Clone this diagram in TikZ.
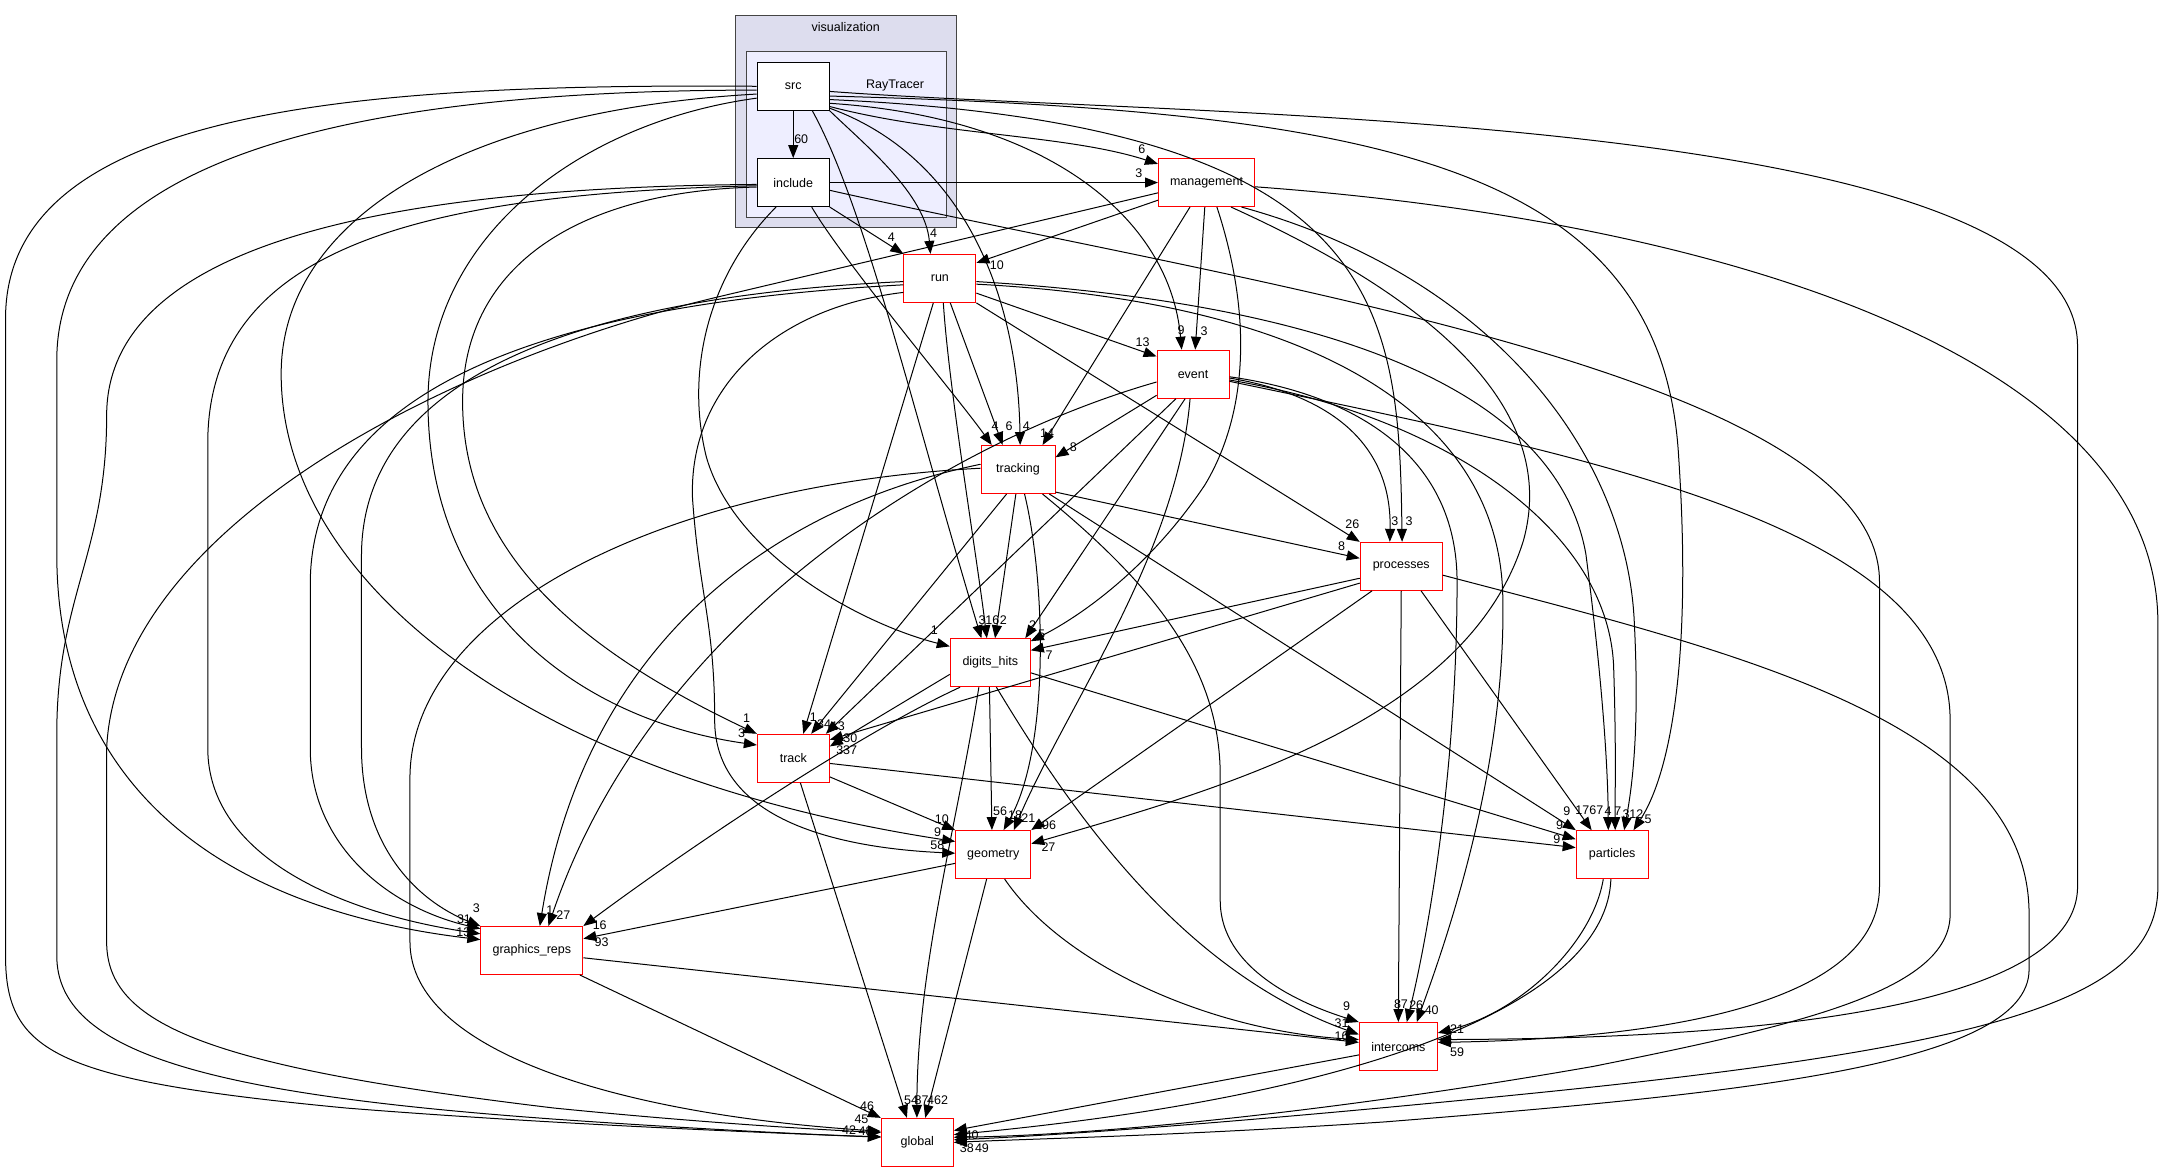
\documentclass[tikz,border=0pt]{standalone}
\usepackage{fontspec}
\setmainfont{Liberation Sans}
\usetikzlibrary{arrows.meta}
\definecolor{visfill}{RGB}{221,221,238}
\definecolor{rtfill}{RGB}{238,238,255}
\definecolor{clborder}{RGB}{68,68,68}
\tikzset{
  dirbox/.style={draw=red, fill=white, line width=1pt, minimum height=48pt, inner sep=0pt, font=\fontsize{12.5}{14}\selectfont},
  locbox/.style={dirbox, draw=black},
  e/.style={-{Triangle[length=13pt,width=10pt]}, line width=1pt},
  lb/.style={font=\fontsize{12.5}{14}\selectfont, inner sep=0pt},
  clus/.style={draw=clborder, line width=1pt, inner sep=0pt}
}
\begin{document}
\begin{tikzpicture}[x=1.385pt,y=-1.385pt]
\useasboundingbox (0,0) rectangle (1568.2,846.2);
\fill[white] (0,0) rectangle (1568.2,846.2);
% clusters
\node[clus, fill=visfill, minimum width=221pt, minimum height=212.3pt] (vis) at (611,87.95) {};
\node[lb] (vislbl) at (610.6,19.7) {visualization};
\node[clus, fill=rtfill, minimum width=200pt, minimum height=165.6pt] (rt) at (611.4,97.1) {};
\node[lb] (rtlbl) at (646.2,61.9) {RayTracer};
% nodes
\node[locbox, minimum width=72pt] (src) at (572.7,62.3) {src};
\node[locbox, minimum width=72pt] (include) at (572.7,131.8) {include};
\node[dirbox, minimum width=96pt] (management) at (871.1,131.8) {management};
\node[dirbox, minimum width=72pt] (run) at (678.6,201) {run};
\node[dirbox, minimum width=72pt] (event) at (861.4,270.2) {event};
\node[dirbox, minimum width=74pt] (tracking) at (735,339) {tracking};
\node[dirbox, minimum width=82pt] (processes) at (1011.7,408.9) {processes};
\node[dirbox, minimum width=80pt] (digits) at (715,478.5) {digits\_hits};
\node[dirbox, minimum width=72pt] (track) at (572.8,547.5) {track};
\node[dirbox, minimum width=75pt] (geometry) at (717.1,617) {geometry};
\node[dirbox, minimum width=72pt] (particles) at (1164,617.1) {particles};
\node[dirbox, minimum width=102pt] (graphics) at (384,686.3) {graphics\_reps};
\node[dirbox, minimum width=78pt] (intercoms) at (1009.6,755.6) {intercoms};
\node[dirbox, minimum width=72pt] (global) at (662.3,824.8) {global};

% ---- src
\draw[e] (src) -- (include);
\node[lb] (l1) at (578.5,100.5) {60};
\draw[e] (src.-29) .. controls (680,98) and (770,97) .. (management.159.5);
\node[lb] (l2) at (824.4,107.6) {6};
\draw[e] (src.south east) .. controls (625,105) and (668,140) .. (run.111);
\node[lb] (l3) at (674.1,168.5) {4};
\draw[e] (src.-31) .. controls (700,115) and (735,220) .. (tracking.85);
\node[lb] (l4) at (741,307.6) {4};
\draw[e] (src.-52) .. controls (625,150) and (660,300) .. (digits.110);
\node[lb] (l5) at (709,447.6) {3};
\draw[e] (src.-25) .. controls (760,85) and (845,160) .. (event.115);
\node[lb] (l6) at (852.7,238.3) {9};
\draw[e] (src.-20) .. controls (1000,90) and (1010,220) .. (processes.88);
\node[lb] (l7) at (1017.3,376) {3};
\draw[e] (src.-15) .. controls (1000,80) and (1200,120) .. (1212,330) .. controls (1222,480) and (1205,560) .. (particles.49);
\node[lb] (l8) at (1190,591.5) {5};
\draw[e] (src.-8) .. controls (850,85) and (1500,78) .. (1500,250) -- (1500,640) .. controls (1500,740) and (1200,750) .. (intercoms.10.7);
\node[lb] (l9) at (1046,751.5) {3};
\draw[e] (src.198) .. controls (420,88) and (309,170) .. (309,290) .. controls (309,440) and (420,520) .. (track.160);
\node[lb] (l10) at (535.5,529.5) {3};
\draw[e] (src.192) .. controls (330,80) and (203,160) .. (203,270) .. controls (203,420) and (380,560) .. (geometry.161);
\node[lb] (l11) at (677,601) {9};
\draw[e] (src.186) .. controls (300,65) and (41,100) .. (41,260) -- (41,400) .. controls (41,560) and (150,655) .. (graphics.168);
\node[lb] (l12) at (334.5,673) {13};
\draw[e] (src.180) .. controls (250,60) and (4,80) .. (4,230) -- (4,690) .. controls (4,760) and (40,780) .. (250,800) .. controls (400,812) and (560,818) .. (global.172);
\node[lb] (l13) at (625,817) {48};

% ---- include
\draw[e] (include) -- (management);
\node[lb] (l14) at (822.3,124.7) {3};
\draw[e] (include.south east) -- (run.north west);
\node[lb] (l15) at (643.6,170.9) {4};
\draw[e] (include.-53) .. controls (610,190) and (690,285) .. (tracking.137.7);
\node[lb] (l16) at (718.4,307.6) {4};
\draw[e] (include.-125) .. controls (510,200) and (495,270) .. (510,330) .. controls (530,400) and (620,450) .. (digits.158);
\node[lb] (l17) at (674.6,454.9) {1};
\draw[e] (include.187) .. controls (420,138) and (334,190) .. (334,290) .. controls (334,400) and (420,470) .. (track.north west);
\node[lb] (l18) at (539,518.6) {1};
\draw[e] (include.185) .. controls (300,140) and (150,180) .. (150,320) -- (150,540) .. controls (150,620) and (250,660) .. (graphics.162);
\node[lb] (l19) at (335,663.5) {31};
\draw[e] (include.183) .. controls (300,135) and (77,170) .. (77,300) .. controls (77,400) and (41,430) .. (41,530) -- (41,690) .. controls (41,760) and (150,790) .. (400,808) .. controls (500,815) and (600,820) .. (global.171);
\node[lb] (l20) at (613,816) {42};
\draw[e] (include.-12) .. controls (900,205) and (1357,270) .. (1357,420) -- (1357,640) .. controls (1357,725) and (1200,750) .. (intercoms.6);
\node[lb] (l21) at (1052,760) {59};

% ---- management
\draw[e] (management.200) -- (run.23);
\node[lb] (l22) at (719.7,191.3) {10};
\draw[e] (management.192.6) -- (520,214) .. controls (325,260) and (85,380) .. (77,540) -- (77,680) .. controls (77,740) and (150,770) .. (400,800) .. controls (500,810) and (580,815) .. (global.165);
\node[lb] (l23) at (622,808) {45};
\draw[e] (management.-94) -- (event.85);
\node[lb] (l24) at (869.3,239) {3};
\draw[e] (management.-124) -- (tracking.45.5);
\node[lb] (l25) at (756,313) {14};
\draw[e] (management.-67) .. controls (905,230) and (900,300) .. (870,350) .. controls (830,410) and (780,445) .. (digits.28);
\node[lb] (l26) at (752,458) {5};
\draw[e] (management.-45) .. controls (1000,200) and (1130,280) .. (1100,390) .. controls (1060,520) and (880,570) .. (geometry.16);
\node[lb] (l27) at (757,611.3) {27};
\draw[e] (management.-35) .. controls (1080,200) and (1175,330) .. (1180,450) .. controls (1184,530) and (1178,570) .. (particles.64.4);
\node[lb] (l28) at (1179,588) {312};
\draw[e] (management.-5) .. controls (1250,160) and (1558,260) .. (1558,450) -- (1558,640) .. controls (1558,720) and (1450,755) .. (1100,790) .. controls (900,810) and (760,820) .. (global.4);
\node[lb] (l29) at (709,829) {49};

% ---- run
\draw[e] (run.-22.5) -- (event.154);
\node[lb] (l30) at (825,247.4) {13};
\draw[e] (run.-67.6) -- (tracking.122.4);
\node[lb] (l31) at (728.5,307.6) {6};
\draw[e] (run.-82) .. controls (685,280) and (705,400) .. (digits.98.5);
\node[lb] (l32) at (716.5,447.6) {16};
\draw[e] (run.-105) -- (track.68);
\node[lb] (l33) at (587.2,517.5) {1};
\draw[e] (run.185) .. controls (400,215) and (262,280) .. (261,400) -- (261,540) .. controls (261,610) and (300,650) .. (graphics.north west);
\node[lb] (l34) at (344,655.8) {3};
\draw[e] (run.190) .. controls (420,218) and (226,270) .. (224,420) -- (224,540) .. controls (224,610) and (280,655) .. (graphics.157);
\draw[e] (run.201) .. controls (560,222) and (497,280) .. (500,360) .. controls (505,430) and (516,450) .. (516,520) .. controls (516,590) and (600,612) .. (geometry.178);
\node[lb] (l35) at (676.8,610.5) {58};
\draw[e] (run.south east) -- (processes.north west);
\node[lb] (l36) at (976.4,378.3) {26};
\draw[e] (run.-5) .. controls (900,215) and (1120,260) .. (1145,400) .. controls (1158,500) and (1161,560) .. (particles.99);
\node[lb] (l37) at (1161,586) {4};
\draw[e] (run.-9) .. controls (950,218) and (1082,300) .. (1085,430) .. controls (1088,560) and (1040,690) .. (intercoms.53.4);
\node[lb] (l38) at (1033.7,729.2) {40};

% ---- event
\draw[e] (event.-150) -- (tracking.18);
\node[lb] (l39) at (775,323) {8};
\draw[e] (event.-168) .. controls (680,320) and (470,450) .. (graphics.56);
\node[lb] (l40) at (406.7,660.6) {27};
\draw[e] (event.-125) -- (track.37);
\node[lb] (l41) at (605,524.5) {13};
\draw[e] (event.-108) -- (digits.35.8);
\node[lb] (l42) at (745.5,451) {2};
\draw[e] (event.-97) .. controls (850,400) and (770,510) .. (geometry.50.4);
\node[lb] (l43) at (742.5,590.8) {21};
\draw[e] (event.-6) .. controls (960,285) and (1005,320) .. (processes.115);
\node[lb] (l44) at (1007,376) {3};
\draw[e] (event.-4) .. controls (980,285) and (1052,330) .. (1052,420) .. controls (1052,560) and (1030,680) .. (intercoms.71);
\node[lb] (l45) at (1022.5,725.6) {26};
\draw[e] (event.-9) .. controls (1040,300) and (1160,380) .. (1165,480) .. controls (1167,540) and (1166,570) .. (particles.83.4);
\node[lb] (l46) at (1168,586) {7};
\draw[e] (event.-11) .. controls (1150,330) and (1408,380) .. (1408,520) -- (1408,660) .. controls (1408,715) and (1300,740) .. (1150,770) .. controls (950,805) and (780,820) .. (global.8);
\node[lb] (l47) at (698,829) {38};

% ---- tracking
\draw[e] (tracking.-31) -- (processes.169);
\node[lb] (l48) at (968.7,394.7) {8};
\draw[e] (tracking.-95) -- (digits.79);
\node[lb] (l49) at (724.5,447.6) {2};
\draw[e] (tracking.-115) -- (track.54);
\node[lb] (l50) at (595,522.8) {34};
\draw[e] (tracking.-75) .. controls (755,420) and (758,540) .. (geometry.67.4);
\node[lb] (l51) at (732.9,588.4) {18};
\draw[e] (tracking.-38) -- (particles.146);
\node[lb] (l52) at (1131.2,586) {9};
\draw[e] (tracking.-45) .. controls (830,420) and (881,480) .. (881,560) -- (881,650) .. controls (881,700) and (940,725) .. (intercoms.north west);
\node[lb] (l53) at (972.3,726.8) {9};
\draw[e] (tracking.172) .. controls (540,370) and (420,480) .. (graphics.72);
\node[lb] (l54) at (397,657) {1};
\draw[e] (tracking.178) .. controls (480,350) and (298,440) .. (296,560) -- (296,680) .. controls (296,760) and (450,805) .. (global.163);

% ---- processes
\draw[e] (processes.196) -- (digits.17.5);
\node[lb] (l56) at (757.4,473) {7};
\draw[e] (processes.202) -- (track.27);
\node[lb] (l57) at (614,533) {30};
\draw[e] (processes.-140) -- (geometry.north east);
\node[lb] (l58) at (755,596) {196};
\draw[e] (processes.-51) -- (particles.130.5);
\node[lb] (l59) at (1147.5,584.8) {1767};
\draw[e] (processes.-90) -- (intercoms.90);
\node[lb] (l60) at (1011.5,725) {87};
\draw[e] (processes.-12) .. controls (1250,470) and (1465,520) .. (1465,660) -- (1465,700) .. controls (1465,770) and (1250,790) .. (1000,810) .. controls (850,820) and (750,822) .. (global.0);

% ---- digits_hits
\draw[e] (digits.196) -- (track.18);
\node[lb] (l62) at (611.3,541.5) {337};
\draw[e] (digits.-92) -- (geometry.93.6);
\node[lb] (l63) at (722,586) {56};
\draw[e] (digits.-141.5) .. controls (620,530) and (500,610) .. (graphics.north east);
\node[lb] (l64) at (433,668) {16};
\draw[e] (digits.-14) -- (particles.157.8);
\node[lb] (l65) at (1126,596) {9};
\draw[e] (digits.-76) .. controls (770,580) and (850,700) .. (intercoms.163.6);
\node[lb] (l66) at (968.7,738.4) {31};
\draw[e] (digits.-115) .. controls (690,600) and (662,700) .. (global.91.3);
\node[lb] (l73) at (665.4,794.2) {87};

% ---- track
\draw[e] (track.-27.8) -- (geometry.north west);
\node[lb] (l67) at (680,591.3) {10};
\draw[e] (track.-8) -- (particles.169.3);
\node[lb] (l68) at (1124,606) {9};
\draw[e] (track.-74.5) -- (global.113.6);
\node[lb] (l69) at (657.8,794.2) {54};

% ---- geometry
\draw[e] (geometry.-105) -- (global.72);
\node[lb] (l70) at (677,794.2) {462};
\draw[e] (geometry.193) -- (graphics.13.4);
\node[lb] (l71) at (434.4,680) {93};
\draw[e] (geometry.-65) .. controls (770,700) and (880,745) .. (intercoms.170.5);
\node[lb] (l72) at (968.7,748) {16};

% ---- graphics_reps
\draw[e] (graphics.-8) -- (intercoms.174.5);
\draw[e] (graphics.-27) -- (global.north west);
\node[lb] (l75) at (626,799) {46};

% ---- particles
\draw[e] (particles.-110) .. controls (1150,680) and (1100,730) .. (intercoms.19);
\node[lb] (l76) at (1052,743) {21};
\draw[e] (particles.-93) .. controls (1160,720) and (1000,790) .. (global.12.5);

% ---- intercoms
\draw[e] (intercoms.192) -- (global.18.6);
\node[lb] (l77) at (701.6,819.5) {40};
\end{tikzpicture}
\end{document}
